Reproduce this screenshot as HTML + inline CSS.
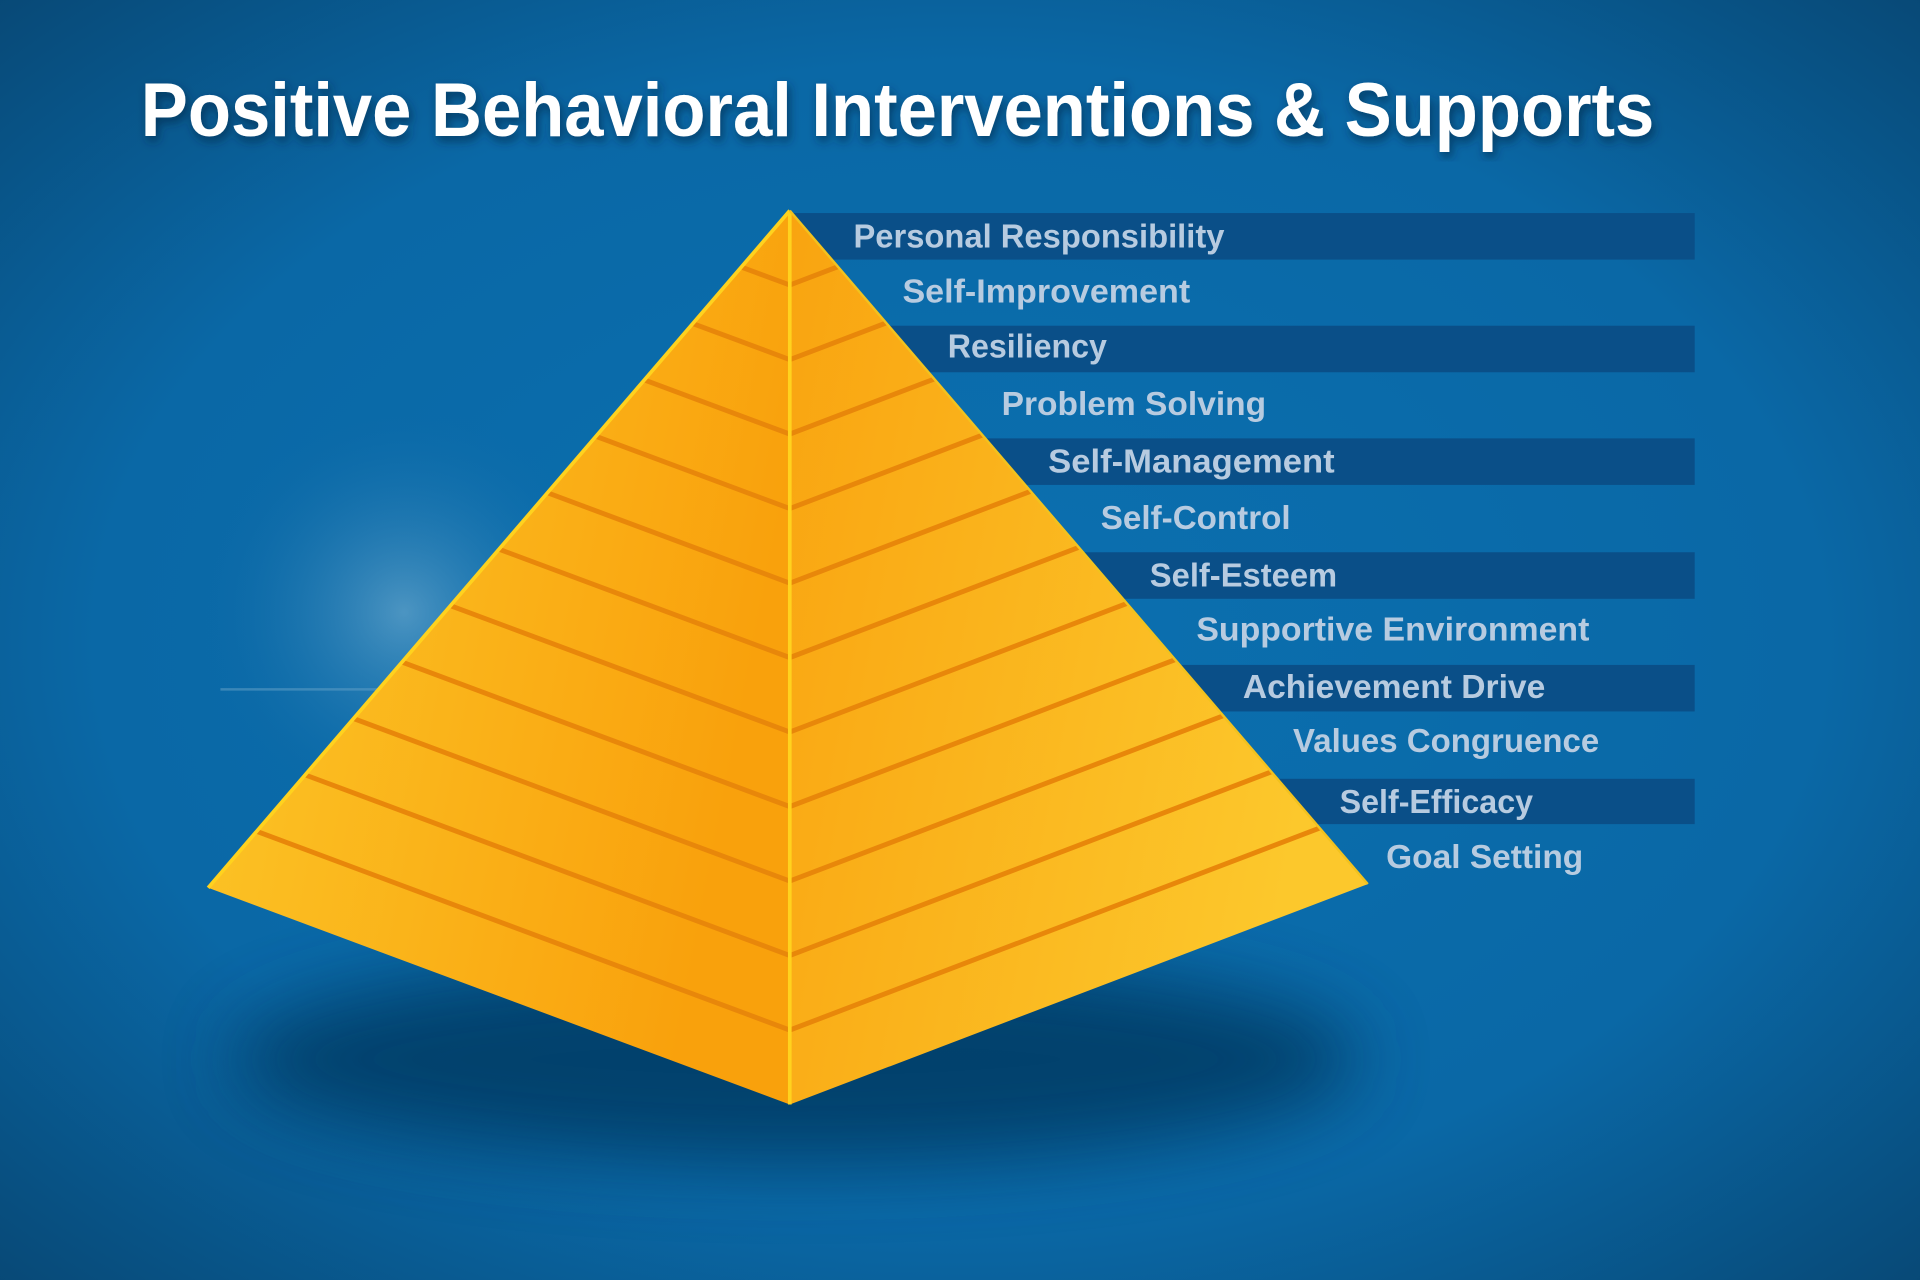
<!DOCTYPE html>
<html><head><meta charset="utf-8"><style>
html,body{margin:0;padding:0;width:1920px;height:1280px;overflow:hidden;background:#0a64a0}
svg{display:block}
</style></head><body>
<svg width="1920" height="1280" viewBox="0 0 1568 1045.3" preserveAspectRatio="none" xmlns="http://www.w3.org/2000/svg">
<defs>
<radialGradient id="bg" cx="50%" cy="50%" r="75%">
<stop offset="0" stop-color="#0b70b0"/><stop offset="0.6" stop-color="#0a68a6"/><stop offset="1" stop-color="#07446f"/>
</radialGradient>
<radialGradient id="glow" cx="330" cy="500" r="170" gradientUnits="userSpaceOnUse">
<stop offset="0" stop-color="#9cc8e0" stop-opacity="0.45"/><stop offset="1" stop-color="#0a68a6" stop-opacity="0"/>
</radialGradient>
<filter id="blur" x="-50%" y="-50%" width="200%" height="200%"><feGaussianBlur stdDeviation="30"/></filter>
<filter id="ts"><feDropShadow dx="2" dy="4" stdDeviation="4" flood-color="#032a4a" flood-opacity="0.7"/></filter>
<linearGradient id="lf" x1="0" y1="0" x2="1" y2="0.3">
<stop offset="0" stop-color="#fcc92a"/><stop offset="1" stop-color="#f9a10c"/>
</linearGradient>
<linearGradient id="rf" x1="0" y1="0" x2="1" y2="0.3">
<stop offset="0" stop-color="#f9a410"/><stop offset="1" stop-color="#fcc82c"/>
</linearGradient>
</defs>
<rect width="1568" height="1046" fill="url(#bg)"/>
<rect width="1568" height="1046" fill="url(#glow)"/>
<line x1="180" y1="563" x2="330" y2="563" stroke="#5a9bc4" stroke-width="2" opacity="0.6"/>
<g fill="#0a4f88">
<rect x="645" y="174" width="739" height="38"/>
<rect x="645" y="266" width="739" height="38"/>
<rect x="645" y="358" width="739" height="38"/>
<rect x="645" y="451" width="739" height="38"/>
<rect x="645" y="543" width="739" height="38"/>
<rect x="645" y="636" width="739" height="37"/>
</g>
<ellipse cx="650" cy="865" rx="460" ry="85" fill="#03375f" opacity="0.8" filter="url(#blur)"/>
<polygon points="645,172 170,725 645,902" fill="url(#lf)"/>
<polygon points="645,172 645,902 1117,722" fill="url(#rf)"/>
<g stroke="#e8870a" stroke-width="4" fill="none">
<polyline points="605.4,218.1 645,232.8 684.3,217.8"/>
<polyline points="565.8,264.2 645,293.7 723.7,263.7"/>
<polyline points="526.3,310.3 645,354.5 763,309.5"/>
<polyline points="486.7,356.3 645,415.3 802.3,355.3"/>
<polyline points="447.1,402.4 645,476.2 841.7,401.2"/>
<polyline points="407.5,448.5 645,537 881,447"/>
<polyline points="367.9,494.6 645,597.8 920.3,492.8"/>
<polyline points="328.3,540.7 645,658.7 959.7,538.7"/>
<polyline points="288.8,586.8 645,719.5 999,584.5"/>
<polyline points="249.2,632.8 645,780.3 1038.3,630.3"/>
<polyline points="209.6,678.9 645,841.2 1077.7,676.2"/>
</g>
<line x1="645" y1="172" x2="645" y2="902" stroke="#ffd21e" stroke-width="3"/>
<line x1="645" y1="172" x2="170" y2="725" stroke="#ffd21e" stroke-width="3"/>
<line x1="645" y1="172" x2="1117" y2="722" stroke="#f2c21e" stroke-width="2"/>
<text x="115" y="111" font-family="Liberation Sans, sans-serif" font-weight="bold" font-size="62" fill="#fff" textLength="1236" lengthAdjust="spacingAndGlyphs" filter="url(#ts)">Positive Behavioral Interventions &amp; Supports</text>
<g font-family="Liberation Sans, sans-serif" font-weight="bold" font-size="27" fill="#b7cbe0">
<text x="697" y="202" textLength="303" lengthAdjust="spacingAndGlyphs">Personal Responsibility</text>
<text x="737" y="247" textLength="235" lengthAdjust="spacingAndGlyphs">Self-Improvement</text>
<text x="774" y="292" textLength="130" lengthAdjust="spacingAndGlyphs">Resiliency</text>
<text x="818" y="339" textLength="216" lengthAdjust="spacingAndGlyphs">Problem Solving</text>
<text x="856" y="386" textLength="234" lengthAdjust="spacingAndGlyphs">Self-Management</text>
<text x="899" y="432" textLength="155" lengthAdjust="spacingAndGlyphs">Self-Control</text>
<text x="939" y="479" textLength="153" lengthAdjust="spacingAndGlyphs">Self-Esteem</text>
<text x="977" y="523" textLength="321" lengthAdjust="spacingAndGlyphs">Supportive Environment</text>
<text x="1015" y="570" textLength="247" lengthAdjust="spacingAndGlyphs">Achievement Drive</text>
<text x="1056" y="614" textLength="250" lengthAdjust="spacingAndGlyphs">Values Congruence</text>
<text x="1094" y="664" textLength="158" lengthAdjust="spacingAndGlyphs">Self-Efficacy</text>
<text x="1132" y="709" textLength="161" lengthAdjust="spacingAndGlyphs">Goal Setting</text>
</g>
</svg>
</body></html>
